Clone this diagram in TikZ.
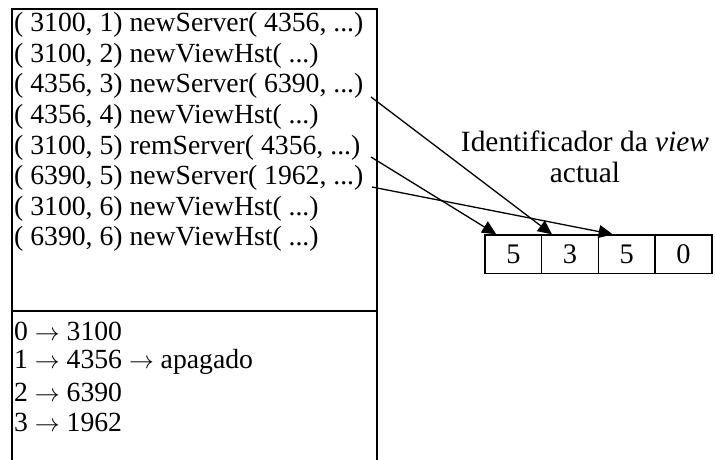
\documentclass[tikz,border=0pt]{standalone}
\usepackage{fontspec}
\setmainfont{Liberation Serif}
\usetikzlibrary{arrows.meta}
\begin{document}
\begin{tikzpicture}[x=1bp,y=-1bp,
  frame/.style={line width=1.8bp},
  row/.style={anchor=west, inner sep=0pt, font=\fontsize{27.8}{30.6}\selectfont},
  caption/.style={align=center, inner sep=0pt, font=\fontsize{29.5}{30.6}\selectfont},
  cell/.style={draw, line width=1.5bp, minimum width=56.7bp, minimum height=38.3bp,
               inner sep=0pt, font=\fontsize{28.5}{30.6}\selectfont},
  ptr/.style={line width=1.3bp, -{Triangle[length=14bp,width=13bp]}}]
\useasboundingbox (0,0) rectangle (715,460);

% outer table frame, open at the bottom, with the divider
\draw[frame] (12,462) -- (12,9) -- (377,9) -- (377,462);
\draw[frame] (12,311) -- (377,311);

% message log
\node[row] (r1) at (14,25.0)  {( 3100, 1) newServer( 4356, ...)};
\node[row] (r2) at (14,55.6)  {( 3100, 2) newViewHst( ...)};
\node[row] (r3) at (14,86.2)  {( 4356, 3) newServer( 6390, ...)};
\node[row] (r4) at (14,116.8) {( 4356, 4) newViewHst( ...)};
\node[row] (r5) at (14,147.4) {( 3100, 5) remServer( 4356, ...)};
\node[row] (r6) at (14,178.0) {( 6390, 5) newServer( 1962, ...)};
\node[row] (r7) at (14,208.6) {( 3100, 6) newViewHst( ...)};
\node[row] (r8) at (14,239.2) {( 6390, 6) newViewHst( ...)};

% index to server map
\node[row] (m0) at (14,331.0) {0 $\rightarrow$ 3100};
\node[row] (m1) at (14,361.6) {1 $\rightarrow$ 4356 $\rightarrow$ apagado};
\node[row] (m2) at (14,392.2) {2 $\rightarrow$ 6390};
\node[row] (m3) at (14,422.8) {3 $\rightarrow$ 1962};

% current view identifier
\node[caption] (lbl) at (585,157) {Identificador da \textit{view}\\actual};
\node[cell] (c1) at (513.35,254.2) {5};
\node[cell] (c2) at (570.05,254.2) {3};
\node[cell] (c3) at (626.75,254.2) {5};
\node[cell] (c4) at (683.45,254.2) {0};

% update pointers
\coordinate (a1) at (371,97);
\coordinate (a2) at (371,157);
\coordinate (a3) at (372,187);
\draw[ptr] (a1) -- ([xshift=11bp]c2.north west);
\draw[ptr] (a2) -- ([xshift=12bp]c1.north west);
\draw[ptr] (a3) -- ([xshift=15bp]c3.north west);
\end{tikzpicture}
\end{document}
